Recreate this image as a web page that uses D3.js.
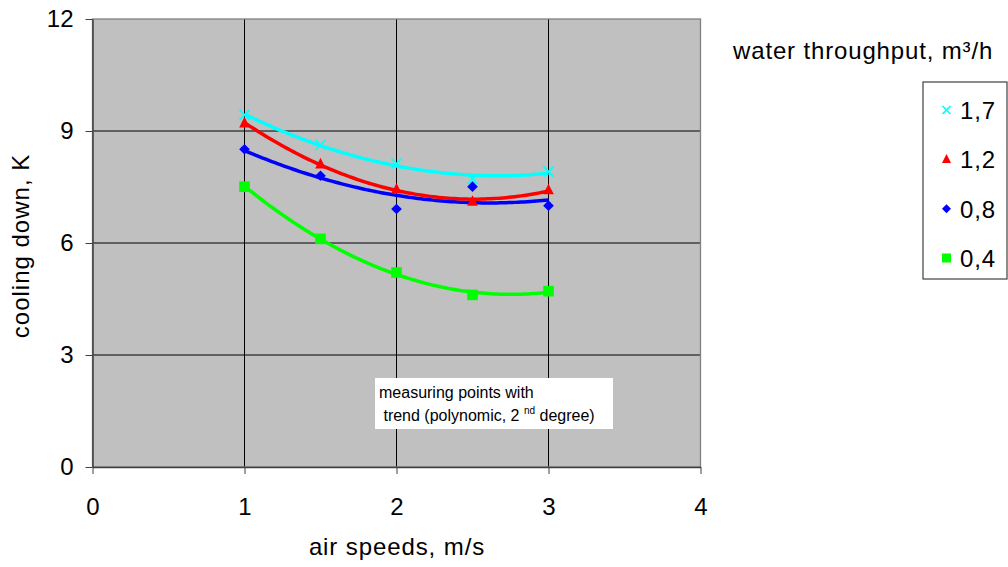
<!DOCTYPE html>
<html>
<head>
<meta charset="utf-8">
<script src="https://cdn.jsdelivr.net/npm/d3@7"></script>
<style>
  body { margin: 0; background: #fff; }
  svg text { font-family: "Liberation Sans", Arial, sans-serif; fill: #000; }
</style>
</head>
<body>
<svg id="chart" width="1008" height="567"></svg>
<script>
// 風速 (x)
const airSpeeds = [1, 1.5, 2, 2.5, 3];
// 系列名 (水量)
const seriesNames = ['1,7', '1,2', '0,8', '0,4'];
// 冷却幅 (y) - 系列ごと
const cool17 = [9.43, 8.63, 8.13, 7.71, 7.91];
const cool12 = [9.21, 8.11, 7.44, 7.11, 7.42];
const cool08 = [8.51, 7.80, 6.91, 7.51, 7.00];
const cool04 = [7.51, 6.11, 5.21, 4.61, 4.71];
const xTicks = [0, 1, 2, 3, 4];
const yTicks = [0, 3, 6, 9, 12];

const seriesList = [
    {name: seriesNames[0], values: cool17, color: '#00ffff', marker: 'x'},
    {name: seriesNames[1], values: cool12, color: '#ff0000', marker: 'tri'},
    {name: seriesNames[2], values: cool08, color: '#0000ff', marker: 'dia'},
    {name: seriesNames[3], values: cool04, color: '#00ff00', marker: 'sq'},
];

const svg = d3.select('#chart');
const plot = {left: 92.5, right: 700.5, top: 19, bottom: 467};
const FONT = '"Liberation Sans", Arial, sans-serif';

const x = d3.scaleLinear().domain([0, 4]).range([plot.left, plot.right]);
const y = d3.scaleLinear().domain([0, 12]).range([plot.bottom, plot.top]);

// 2次の最小二乗近似
function quadFit(xs, ys) {
    let s = [0, 0, 0, 0, 0], t = [0, 0, 0];
    xs.forEach((xv, i) => {
        for (let k = 0; k < 5; k++) s[k] += Math.pow(xv, k);
        for (let k = 0; k < 3; k++) t[k] += ys[i] * Math.pow(xv, k);
    });
    const m = [
        [s[0], s[1], s[2], t[0]],
        [s[1], s[2], s[3], t[1]],
        [s[2], s[3], s[4], t[2]],
    ];
    for (let i = 0; i < 3; i++) {
        for (let j = i + 1; j < 3; j++) {
            const f = m[j][i] / m[i][i];
            for (let k = i; k < 4; k++) m[j][k] -= f * m[i][k];
        }
    }
    const c = [0, 0, 0];
    for (let i = 2; i >= 0; i--) {
        let v = m[i][3];
        for (let k = i + 1; k < 3; k++) v -= m[i][k] * c[k];
        c[i] = v / m[i][i];
    }
    return xv => c[0] + c[1] * xv + c[2] * xv * xv;
}

// 背景
svg.append('rect')
    .attr('x', plot.left).attr('y', plot.top)
    .attr('width', plot.right - plot.left).attr('height', plot.bottom - plot.top)
    .attr('fill', '#c0c0c0');

// グリッド
svg.append('g')
    .selectAll('line')
    .data(xTicks.filter(d => d > 0 && d < 4))
    .join('line')
    .attr('x1', d => x(d)).attr('x2', d => x(d))
    .attr('y1', plot.top).attr('y2', plot.bottom)
    .attr('stroke', '#000').attr('stroke-width', 1);
svg.append('g')
    .selectAll('line')
    .data(yTicks.filter(d => d > 0 && d < 12))
    .join('line')
    .attr('x1', plot.left).attr('x2', plot.right)
    .attr('y1', d => y(d)).attr('y2', d => y(d))
    .attr('stroke', '#000').attr('stroke-width', 1);

// 枠
svg.append('rect')
    .attr('x', plot.left).attr('y', plot.top)
    .attr('width', plot.right - plot.left).attr('height', plot.bottom - plot.top)
    .attr('fill', 'none').attr('stroke', '#808080').attr('stroke-width', 1.3);

// 軸
const xAxis = svg.append('g')
    .attr('transform', `translate(0,${plot.bottom})`)
    .call(d3.axisBottom(x).tickValues(xTicks).tickFormat(d3.format('d'))
        .tickSize(7).tickSizeOuter(0).tickPadding(24));
xAxis.select('.domain').attr('stroke', '#404040').attr('stroke-width', 1.5);
xAxis.selectAll('.tick line').attr('stroke', '#404040');
xAxis.selectAll('text').attr('font-size', 24).style('font-family', FONT);

const yAxis = svg.append('g')
    .attr('transform', `translate(${plot.left},0)`)
    .call(d3.axisLeft(y).tickValues(yTicks).tickFormat(d3.format('d'))
        .tickSize(7).tickSizeOuter(0).tickPadding(12));
yAxis.select('.domain').attr('stroke', '#404040').attr('stroke-width', 1.5);
yAxis.selectAll('.tick line').attr('stroke', '#404040');
yAxis.selectAll('text').attr('font-size', 24).style('font-family', FONT);

// 軸タイトル
svg.append('text')
    .attr('x', 397).attr('y', 555)
    .attr('text-anchor', 'middle').attr('font-size', 24)
    .attr('letter-spacing', 0.9)
    .text('air speeds, m/s');
svg.append('text')
    .attr('transform', 'translate(29,246) rotate(-90)')
    .attr('text-anchor', 'middle').attr('font-size', 24)
    .attr('letter-spacing', 1.0)
    .text('cooling down, K');

// マーカー
function drawMarker(g, type, color, cx, cy, s) {
    if (type === 'x') {
        g.append('path')
            .attr('d', `M${cx - s},${cy - s}L${cx + s},${cy + s}M${cx - s},${cy + s}L${cx + s},${cy - s}`)
            .attr('stroke', color).attr('stroke-width', 1.7).attr('fill', 'none');
    } else if (type === 'tri') {
        g.append('path')
            .attr('d', `M${cx},${cy - s * 1.2}L${cx + s},${cy + s * 0.8}L${cx - s},${cy + s * 0.8}Z`)
            .attr('fill', color);
    } else if (type === 'dia') {
        g.append('path')
            .attr('d', `M${cx},${cy - s}L${cx + s},${cy}L${cx},${cy + s}L${cx - s},${cy}Z`)
            .attr('fill', color);
    } else {
        g.append('rect')
            .attr('x', cx - s).attr('y', cy - s)
            .attr('width', 2 * s).attr('height', 2 * s)
            .attr('fill', color);
    }
}

// 近似曲線
const line = d3.line().x(d => x(d[0])).y(d => y(d[1]));
seriesList.slice().reverse().forEach(s => {
    const f = quadFit(airSpeeds, s.values);
    const x0 = airSpeeds[0], x1 = airSpeeds[airSpeeds.length - 1];
    const pts = d3.range(0, 101).map(i => {
        const xv = x0 + (x1 - x0) * i / 100;
        return [xv, f(xv)];
    });
    svg.append('path')
        .datum(pts)
        .attr('d', line)
        .attr('fill', 'none')
        .attr('stroke', s.color)
        .attr('stroke-width', 3.5);
});

// 測定点
seriesList.slice().reverse().forEach(s => {
    const g = svg.append('g');
    s.values.forEach((v, i) => {
        drawMarker(g, s.marker, s.color, x(airSpeeds[i]), y(v), s.marker === 'x' ? 5 : 5.3);
    });
});

// 注記
svg.append('rect')
    .attr('x', 375).attr('y', 378).attr('width', 238).attr('height', 51)
    .attr('fill', '#fff');
svg.append('text')
    .attr('x', 379).attr('y', 398).attr('font-size', 16)
    .text('measuring points with');
const note2 = svg.append('text')
    .attr('x', 379).attr('y', 421).attr('font-size', 16)
    .attr('xml:space', 'preserve');
note2.append('tspan').text(' trend (polynomic, 2 ');
note2.append('tspan').attr('font-size', 10).attr('dy', -7).text('nd');
note2.append('tspan').attr('dy', 7).text(' degree)');

// 凡例
svg.append('text')
    .attr('x', 733).attr('y', 59).attr('font-size', 24)
    .attr('letter-spacing', 0.85)
    .text('water throughput, m³/h');
svg.append('rect')
    .attr('x', 923).attr('y', 82).attr('width', 84).attr('height', 197)
    .attr('fill', '#fff').attr('stroke', '#404040').attr('stroke-width', 1.2);
const legRow = d3.scaleLinear().domain([0, 3]).range([110, 258]);
seriesList.forEach((s, i) => {
    const ly = legRow(i);
    drawMarker(svg, s.marker, s.color, 946.5, ly, s.marker === 'x' ? 4 : 4.5);
    svg.append('text')
        .attr('x', 960).attr('y', ly + 9).attr('font-size', 24)
        .attr('letter-spacing', 0.9)
        .text(s.name);
});
</script>
</body>
</html>
